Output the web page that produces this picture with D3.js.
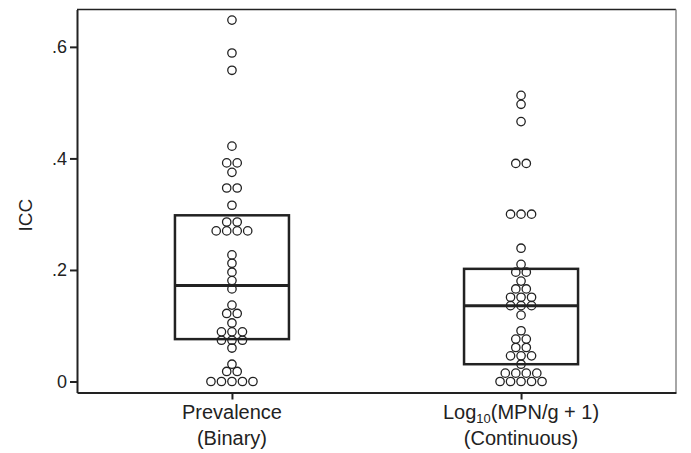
<!DOCTYPE html>
<html>
<head>
<meta charset="utf-8">
<script src="https://cdn.jsdelivr.net/npm/d3@7"></script>
<style>
  body { margin: 0; background: #fff; }
  text { font-family: "Liberation Sans", Arial, sans-serif; fill: #222; }
</style>
</head>
<body>
<div id="plot"></div>
<script>
// Categories and ICC values
const categories = ["Prevalence", "Log10"];
const labelLine2 = ["(Binary)", "(Continuous)"];

const prevalenceICC = [0.648, 0.589, 0.558, 0.422, 0.392, 0.392, 0.375, 0.347, 0.347, 0.316,
  0.286, 0.286, 0.270, 0.270, 0.270, 0.270, 0.227, 0.212, 0.196, 0.181,
  0.166, 0.137, 0.122, 0.122, 0.105, 0.089, 0.089, 0.089, 0.074, 0.074,
  0.074, 0.060, 0.031, 0.018, 0.018, 0, 0, 0, 0, 0];

const logICC = [0.513, 0.497, 0.466, 0.391, 0.391, 0.300, 0.300, 0.300, 0.239, 0.210,
  0.196, 0.196, 0.180, 0.166, 0.166, 0.151, 0.151, 0.151, 0.136, 0.136,
  0.136, 0.119, 0.091, 0.076, 0.076, 0.061, 0.061, 0.046, 0.046, 0.046,
  0.031, 0.015, 0.015, 0.015, 0.015, 0, 0, 0, 0, 0];

// box (quartiles) per category
const q1 = [0.076, 0.031];
const median = [0.172, 0.136];
const q3 = [0.298, 0.202];

const yTicks = [0, 0.2, 0.4, 0.6];

const W = 691, H = 453;
const margin = {top: 9.5, right: 15, bottom: 60.5, left: 77};

const svg = d3.select("#plot").append("svg")
  .attr("width", W).attr("height", H);

const x = d3.scalePoint()
  .domain(categories)
  .range([margin.left, W - margin.right])
  .padding(0.536);

const y = d3.scaleLinear()
  .domain([-0.0197, 0.667])
  .range([H - margin.bottom, margin.top]);

const boxW = 114;
const dotStep = 10.5;

// boxes
const boxes = svg.append("g");
categories.forEach((c, i) => {
  boxes.append("rect")
    .attr("x", x(c) - boxW / 2)
    .attr("y", y(q3[i]))
    .attr("width", boxW)
    .attr("height", y(q1[i]) - y(q3[i]))
    .attr("fill", "none")
    .attr("stroke", "#222")
    .attr("stroke-width", 2.5);
  boxes.append("line")
    .attr("x1", x(c) - boxW / 2).attr("x2", x(c) + boxW / 2)
    .attr("y1", y(median[i])).attr("y2", y(median[i]))
    .attr("stroke", "#222")
    .attr("stroke-width", 3);
});

// dots: identical values share a row, centred on the category
function layout(values, cat) {
  const rows = d3.groups(values, v => v);
  const pts = [];
  rows.forEach(([v, arr]) => {
    arr.forEach((_, j) => {
      pts.push({cx: x(cat) + (j - (arr.length - 1) / 2) * dotStep, cy: y(v)});
    });
  });
  return pts;
}

const allPts = layout(prevalenceICC, categories[0]).concat(layout(logICC, categories[1]));
svg.append("g").selectAll("circle")
  .data(allPts)
  .join("circle")
  .attr("cx", d => d.cx)
  .attr("cy", d => d.cy)
  .attr("r", 4.2)
  .attr("fill", "none")
  .attr("stroke", "#222")
  .attr("stroke-width", 1.3);

// frame
svg.append("line")
  .attr("x1", margin.left).attr("x2", W - margin.right)
  .attr("y1", margin.top).attr("y2", margin.top)
  .attr("stroke", "#222").attr("stroke-width", 1.5);
svg.append("line")
  .attr("x1", W - margin.right).attr("x2", W - margin.right)
  .attr("y1", margin.top).attr("y2", H - margin.bottom)
  .attr("stroke", "#888").attr("stroke-width", 1.5);

// y axis
const yAxis = d3.axisLeft(y)
  .tickValues(yTicks)
  .tickSize(7)
  .tickSizeOuter(0)
  .tickPadding(3)
  .tickFormat(d => d === 0 ? "0" : d3.format(".1f")(d).replace(/^0/, ""));
const yg = svg.append("g")
  .attr("transform", `translate(${margin.left},0)`)
  .call(yAxis);
yg.select(".domain").attr("stroke", "#222").attr("stroke-width", 2);
yg.selectAll(".tick line").attr("stroke", "#222").attr("stroke-width", 2);
yg.selectAll(".tick text").style("font-size", "18px")
  .style("font-family", "'Liberation Sans', Arial, sans-serif").attr("fill", "#222");

// x axis
const xAxis = d3.axisBottom(x).tickSize(7).tickSizeOuter(0).tickFormat("");
const xg = svg.append("g")
  .attr("transform", `translate(0,${H - margin.bottom})`)
  .call(xAxis);
xg.select(".domain").attr("stroke", "#222").attr("stroke-width", 2);
xg.selectAll(".tick line").attr("stroke", "#222").attr("stroke-width", 2);

// category labels (two lines)
const lab = svg.append("g").style("font-size", "20px");
lab.append("text").attr("x", x(categories[0])).attr("y", 419)
  .attr("text-anchor", "middle").text("Prevalence");
const t2 = lab.append("text").attr("x", x(categories[1])).attr("y", 419)
  .attr("text-anchor", "middle");
t2.append("tspan").text("Log");
t2.append("tspan").attr("dy", 4).style("font-size", "13px").text("10");
t2.append("tspan").attr("dy", -4).text("(MPN/g + 1)");
categories.forEach((c, i) => {
  lab.append("text").attr("x", x(c)).attr("y", 445)
    .attr("text-anchor", "middle").text(labelLine2[i]);
});

// y title
svg.append("text")
  .attr("transform", `translate(32,${(y(0.6) + y(0)) / 2 + 1}) rotate(-90)`)
  .attr("text-anchor", "middle")
  .style("font-size", "19px")
  .text("ICC");
</script>
</body>
</html>
